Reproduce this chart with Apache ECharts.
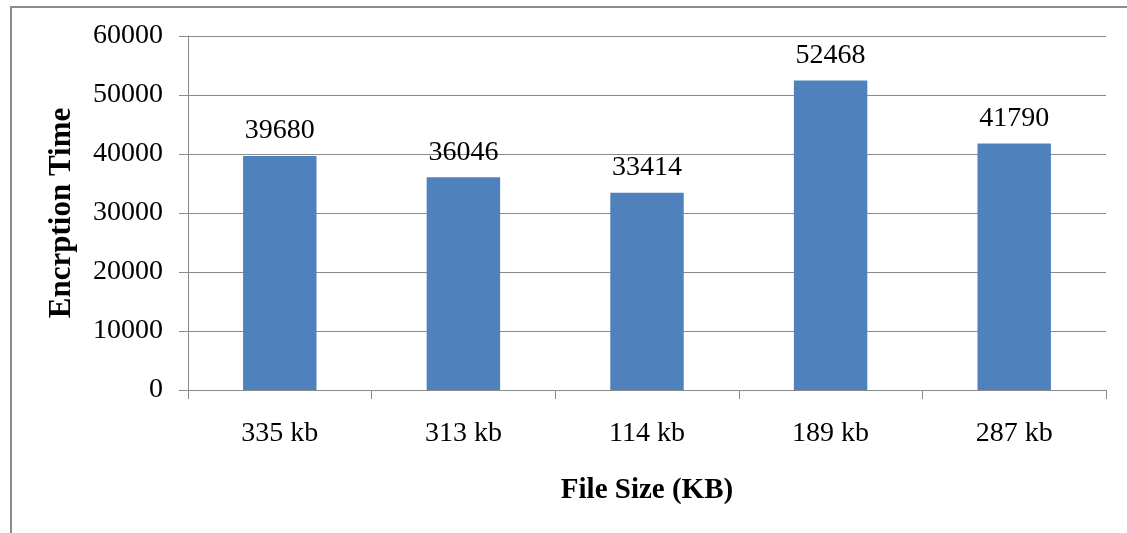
<!DOCTYPE html>
<html>
<head>
<meta charset="utf-8">
<script src="https://cdn.jsdelivr.net/npm/echarts@6/dist/echarts.min.js"></script>
<style>
  html, body { margin: 0; padding: 0; background: #ffffff; }
  #chart { width: 1127px; height: 533px; }
</style>
</head>
<body>
<div id="chart"></div>
<script>
// File sizes and their measured encryption times
const categories = ['335 kb', '313 kb', '114 kb', '189 kb', '287 kb'];
const encryptionTimes = [39680, 36046, 33414, 52468, 41790];
const yTicks = { min: 0, max: 60000, interval: 10000 };

const serif = '"Liberation Serif", "Times New Roman", serif';
const gridColor = '#8a8a8a';

const chart = echarts.init(document.getElementById('chart'), null, { renderer: 'canvas' });

chart.setOption({
  backgroundColor: '#ffffff',
  animation: false,
  graphic: [{
    type: 'rect',
    shape: { x: 11, y: 7, width: 1130, height: 540 },
    style: { fill: 'none', stroke: '#8c8c8c', lineWidth: 2 },
    silent: true
  }],
  grid: { left: 188, right: 21, top: 36, bottom: 143, containLabel: false },
  xAxis: {
    type: 'category',
    data: categories,
    name: 'File Size (KB)',
    nameLocation: 'middle',
    nameGap: 86,
    nameTextStyle: { fontFamily: serif, fontSize: 29, fontWeight: 'bold', color: '#000' },
    axisLine: { show: true, lineStyle: { color: gridColor, width: 1 } },
    axisTick: { show: true, length: 9, lineStyle: { color: gridColor } },
    axisLabel: { fontFamily: serif, fontSize: 28, color: '#000', margin: 30 },
    splitLine: { show: false }
  },
  yAxis: {
    type: 'value',
    min: yTicks.min,
    max: yTicks.max,
    interval: yTicks.interval,
    name: 'Encrption Time',
    nameLocation: 'middle',
    nameGap: 111,
    nameRotate: 90,
    nameTextStyle: { fontFamily: serif, fontSize: 31, fontWeight: 'bold', color: '#000' },
    axisLine: { show: true, lineStyle: { color: gridColor, width: 1 } },
    axisTick: { show: true, length: 9, lineStyle: { color: gridColor } },
    axisLabel: {
      fontFamily: serif, fontSize: 28, color: '#000', margin: 25,
      formatter: (v) => String(v)
    },
    splitLine: { show: true, lineStyle: { color: gridColor, width: 1 } }
  },
  series: [{
    type: 'bar',
    data: encryptionTimes,
    barWidth: '40%',
    itemStyle: { color: '#4f81bd' },
    label: {
      show: true,
      position: 'top',
      distance: 11,
      fontFamily: serif,
      fontSize: 28,
      color: '#000'
    }
  }]
});
</script>
</body>
</html>
